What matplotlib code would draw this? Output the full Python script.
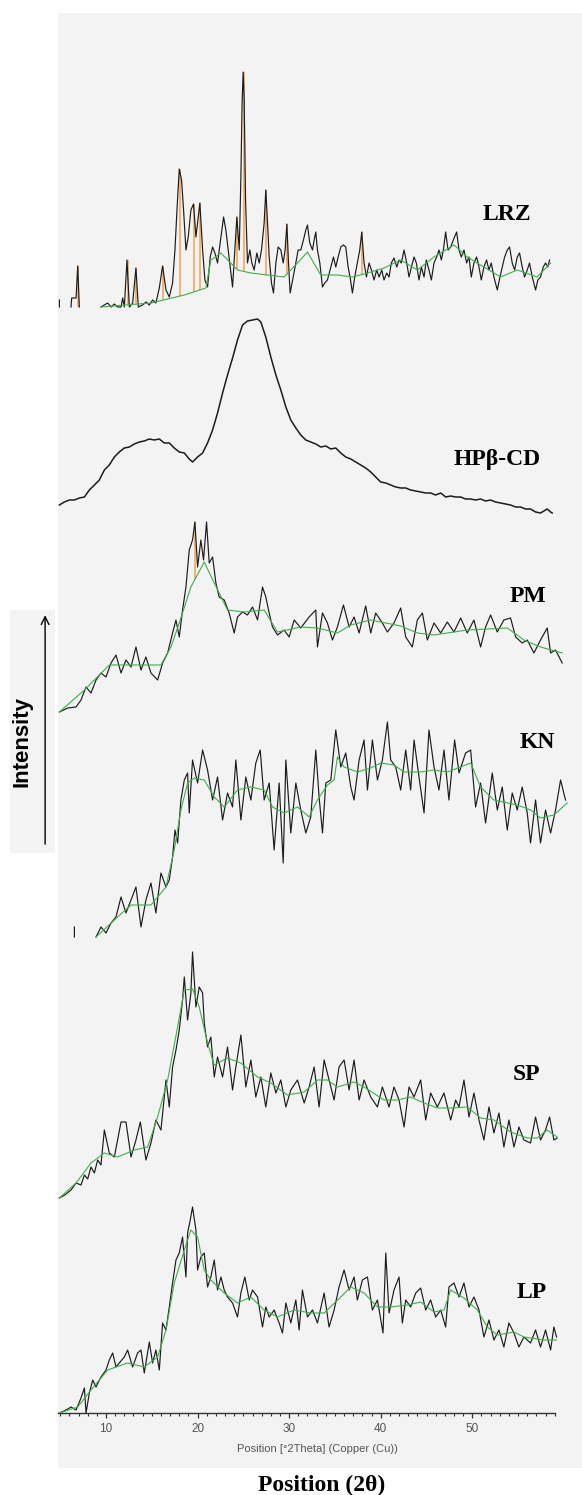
#!/usr/bin/env python3
"""Stacked XRD patterns: LRZ, HPb-CD, PM, KN, SP, LP."""

import matplotlib
matplotlib.use("Agg")
import matplotlib.pyplot as plt
import numpy as np

nan = np.nan

# ---------------------------------------------------------------------------
# Data: (2theta [deg], counts above each pattern's base)
# ---------------------------------------------------------------------------

lrz_2theta = [
    4.91, 4.91, nan, 6.18, 6.25, 6.73, 6.91, 7.09, nan,
    9.45, 9.82, 10.18, 10.55, 10.91, 11.27, 11.64, 11.82, 12.0, 12.29,
    12.55, 12.91, 13.27, 13.53, 14.0, 14.36, 14.73, 15.09, 15.45, 15.82,
    16.18, 16.55, 16.91, 17.27, 17.53, 17.75, 18.0, 18.25, 18.47, 18.73,
    18.98, 19.27, 19.56, 19.82, 20.0, 20.25, 20.55, 20.8, 21.09, 21.38,
    21.64, 21.89, 22.18, 22.55, 22.84, 23.09, 23.35, 23.56, 23.82, 24.07,
    24.29, 24.55, 24.73, 24.87, 24.98, 25.09, 25.24, 25.45, 25.71, 25.93,
    26.18, 26.47, 26.73, 26.98, 27.27, 27.45, 27.64, 27.82, 28.07, 28.29,
    28.55, 28.8, 29.09, 29.35, 29.56, 29.75, 29.93, 30.11, 30.44, 30.73,
    30.98, 31.27, 31.56, 31.82, 32.0, 32.25, 32.55, 32.73, 32.91, 33.09,
    33.35, 33.64, 33.89, 34.18, 34.55, 34.84, 35.09, 35.35, 35.64, 35.93,
    36.18, 36.44, 36.65, 36.91, 37.16, 37.45, 37.71, 37.93, 38.18, 38.44,
    38.73, 38.98, 39.27, 39.56, 39.82, 40.11, 40.36, 40.65, 40.91, 41.16,
    41.45, 41.75, 42.0, 42.25, 42.55, 42.84, 43.09, 43.35, 43.64, 43.89,
    44.18, 44.44, 44.73, 44.98, 45.27, 45.53, 45.82, 46.11, 46.36, 46.62,
    46.84, 47.09, 47.35, 47.64, 47.93, 48.29, 48.55, 48.8, 49.09, 49.38,
    49.64, 49.89, 50.18, 50.47, 50.73, 50.98, 51.27, 51.56, 51.82, 52.07,
    52.36, 52.73, 53.02, 53.27, 53.53, 53.82, 54.07, 54.36, 54.62, 54.91,
    55.16, 55.45, 55.71, 56.0, 56.25, 56.55, 56.91, 57.16, 57.45, 57.75,
    58.0, 58.25, 58.44,
]
lrz_counts = [
    6, 13, nan, 6, 15, 15, 47, 6, nan,
    6, 8, 10, 6, 9, 6, 6, 15, 6, 53,
    6, 10, 45, 6, 8, 11, 8, 13, 10, 25,
    47, 23, 16, 30, 63, 103, 144, 133, 103, 63,
    76, 103, 109, 76, 90, 110, 63, 33, 26, 56,
    66, 60, 50, 76, 96, 83, 63, 46, 26, 63,
    96, 63, 136, 213, 241, 213, 113, 50, 63, 50,
    43, 60, 50, 63, 90, 123, 90, 56, 30, 20,
    50, 66, 63, 50, 63, 89, 50, 20, 36, 50,
    63, 63, 73, 83, 88, 70, 63, 73, 81, 63,
    50, 26, 30, 33, 46, 56, 46, 56, 66, 68,
    66, 46, 36, 20, 36, 50, 63, 81, 50, 36,
    50, 43, 33, 43, 36, 43, 33, 40, 36, 50,
    55, 46, 53, 50, 63, 50, 36, 46, 56, 50,
    33, 46, 36, 53, 43, 33, 50, 56, 63, 53,
    63, 81, 63, 66, 73, 81, 63, 56, 63, 50,
    56, 36, 50, 56, 46, 33, 46, 53, 43, 50,
    36, 23, 36, 46, 56, 63, 66, 50, 43, 56,
    60, 46, 36, 43, 50, 36, 23, 33, 36, 46,
    50, 46, 53,
]
lrz_bg = [
    (9.45, 6), (14.91, 10), (18.55, 18), (20.91, 25), (21.45, 53), (22.55, 60),
    (24.36, 43), (25.82, 40), (29.45, 36), (30.91, 50), (32.0, 61), (33.45, 38),
    (35.27, 38), (36.91, 36), (38.55, 40), (40.36, 45), (42.18, 53), (44.0, 43),
    (45.82, 56), (48.0, 68), (49.45, 56), (51.27, 46), (53.09, 36), (54.91, 43),
    (57.09, 36), (58.55, 50),
]
lrz_peaks = [6.91, 12.29, 13.27, 16.18, 18.0, 19.56, 20.25, 24.29, 24.98,
             27.45, 29.75, 37.93]

hp_scan = [
    (4.91, 13), (5.45, 16), (6.0, 18), (6.55, 18), (7.09, 20), (7.64, 21),
    (8.18, 28), (8.73, 33), (9.27, 38), (9.82, 48), (10.36, 53), (10.91, 61),
    (11.45, 66), (12.0, 70), (12.55, 71), (13.09, 74), (13.64, 76), (14.18, 77),
    (14.73, 79), (15.27, 78), (15.82, 79), (16.36, 75), (16.91, 75), (17.45, 70),
    (18.0, 66), (18.55, 65), (19.09, 59), (19.45, 56), (20.0, 61), (20.55, 65),
    (21.09, 75), (21.64, 88), (22.18, 105), (22.73, 125), (23.27, 143),
    (23.82, 160), (24.36, 178), (24.91, 193), (25.45, 197), (26.0, 198),
    (26.55, 199), (26.91, 196), (27.45, 181), (28.0, 161), (28.55, 143),
    (29.09, 128), (29.64, 111), (30.18, 98), (30.73, 90), (31.27, 83),
    (31.82, 78), (32.36, 76), (32.91, 74), (33.45, 71), (34.0, 72), (34.55, 69),
    (35.09, 70), (35.64, 65), (36.18, 61), (36.73, 59), (37.27, 56), (37.82, 53),
    (38.36, 50), (38.91, 46), (39.45, 41), (40.0, 36), (40.55, 35), (41.09, 33),
    (41.64, 31), (42.18, 30), (42.73, 30), (43.27, 28), (43.82, 27), (44.36, 26),
    (44.91, 25), (45.45, 25), (46.0, 23), (46.55, 25), (47.09, 21), (47.64, 22),
    (48.18, 21), (48.73, 21), (49.27, 19), (49.82, 19), (50.36, 18), (50.91, 19),
    (51.45, 17), (52.0, 18), (52.55, 16), (53.09, 15), (53.64, 14), (54.18, 13),
    (54.73, 11), (55.27, 11), (55.82, 9), (56.36, 9), (56.91, 6), (57.45, 5),
    (57.82, 7), (58.18, 9), (58.55, 6), (58.73, 5),
]

pm_scan = [
    (4.91, 1), (5.82, 5), (6.73, 6), (7.27, 13), (7.82, 26), (8.36, 20),
    (8.91, 33), (9.45, 40), (10.0, 36), (10.55, 50), (11.09, 58), (11.64, 40),
    (12.18, 53), (12.73, 46), (13.27, 66), (13.82, 43), (14.36, 56), (14.91, 40),
    (15.64, 33), (16.18, 50), (16.73, 60), (17.27, 80), (17.64, 93), (18.0, 76),
    (18.36, 103), (18.73, 126), (19.09, 163), (19.45, 173), (19.71, 191),
    (20.0, 146), (20.36, 173), (20.65, 153), (20.98, 191), (21.27, 150),
    (21.64, 156), (22.0, 130), (22.36, 116), (22.91, 113), (23.45, 100),
    (24.0, 80), (24.36, 96), (24.91, 101), (25.45, 98), (26.0, 106), (26.55, 93),
    (27.09, 126), (27.45, 116), (27.82, 100), (28.18, 86), (28.73, 78),
    (29.45, 83), (30.0, 76), (30.55, 93), (31.27, 85), (32.18, 96), (32.91, 103),
    (33.09, 66), (33.64, 100), (34.18, 90), (34.73, 73), (35.27, 86),
    (35.93, 108), (36.55, 86), (37.09, 96), (37.64, 80), (38.36, 107),
    (38.91, 80), (39.45, 100), (40.18, 90), (40.73, 81), (41.45, 90),
    (42.18, 105), (42.73, 76), (43.45, 66), (44.0, 93), (44.55, 100), (45.09, 73),
    (45.82, 90), (46.55, 80), (47.27, 91), (48.0, 81), (48.73, 95), (49.45, 80),
    (50.18, 93), (50.91, 66), (51.45, 86), (52.0, 98), (52.73, 81), (53.45, 93),
    (54.18, 95), (54.73, 76), (55.45, 70), (56.0, 73), (56.73, 60), (57.45, 73),
    (58.18, 85), (58.55, 60), (59.09, 63), (59.82, 50),
]
pm_bg = [
    (4.91, 1), (7.64, 23), (10.36, 48), (13.09, 48), (16.0, 48), (17.09, 66),
    (18.0, 90), (19.27, 126), (20.73, 151), (21.82, 130), (23.27, 103),
    (25.09, 101), (27.27, 103), (28.73, 81), (31.27, 86), (33.09, 85),
    (35.27, 80), (36.73, 88), (38.91, 93), (42.18, 87), (44.0, 80), (45.82, 78),
    (49.45, 83), (53.82, 85), (55.64, 73), (57.45, 66), (59.82, 60),
]
pm_peaks = [19.71]

kn_scan = [
    (6.55, 6), (6.55, 16), (nan, nan),
    (8.91, 6), (9.45, 16), (10.0, 10), (10.55, 20), (11.09, 26), (11.64, 46),
    (12.18, 30), (12.73, 43), (13.27, 56), (13.82, 16), (14.36, 43), (14.91, 60),
    (15.45, 30), (16.0, 70), (16.55, 56), (16.91, 63), (17.27, 86), (17.53, 113),
    (17.82, 100), (18.18, 143), (18.55, 163), (18.91, 170), (19.09, 130),
    (19.45, 183), (20.0, 160), (20.55, 193), (21.09, 173), (21.64, 143),
    (22.18, 166), (22.73, 123), (23.27, 150), (23.82, 136), (24.18, 183),
    (24.73, 123), (25.27, 166), (25.82, 143), (26.36, 180), (26.84, 193),
    (27.27, 143), (27.82, 160), (28.36, 93), (28.91, 160), (29.35, 80),
    (29.64, 183), (30.18, 110), (30.73, 160), (31.27, 133), (31.82, 110),
    (32.36, 126), (32.91, 193), (33.27, 146), (33.64, 110), (34.0, 160),
    (34.55, 163), (35.09, 213), (35.64, 176), (36.18, 190), (36.73, 156),
    (37.09, 143), (37.64, 183), (38.18, 203), (38.55, 153), (39.09, 203),
    (39.64, 163), (40.18, 183), (40.73, 221), (41.09, 183), (41.64, 176),
    (42.18, 153), (42.73, 193), (43.27, 153), (43.64, 203), (44.18, 166),
    (44.73, 130), (45.27, 213), (45.82, 176), (46.36, 153), (46.91, 193),
    (47.45, 143), (48.07, 203), (48.55, 170), (49.27, 190), (49.82, 193),
    (50.36, 136), (50.91, 160), (51.45, 120), (52.18, 170), (52.73, 133),
    (53.27, 156), (53.82, 113), (54.36, 150), (54.91, 133), (55.45, 156),
    (56.0, 130), (56.36, 100), (56.91, 143), (57.45, 100), (58.0, 133),
    (58.55, 110), (59.09, 133), (59.64, 163), (60.18, 143),
]
kn_bg = [
    (8.91, 6), (11.27, 26), (12.73, 38), (14.91, 38), (16.55, 56), (17.45, 93),
    (18.18, 133), (18.91, 160), (19.64, 165), (20.73, 163), (21.82, 146),
    (22.91, 136), (24.36, 153), (25.82, 156), (27.27, 153), (28.18, 136),
    (29.45, 130), (30.91, 136), (32.18, 126), (33.09, 143), (34.18, 158),
    (34.91, 163), (35.27, 186), (36.0, 176), (37.45, 171), (38.91, 175),
    (40.0, 180), (41.45, 178), (42.55, 171), (44.36, 171), (45.82, 173),
    (47.27, 171), (48.73, 176), (49.82, 180), (50.91, 156), (52.36, 143),
    (54.91, 138), (56.36, 133), (57.45, 125), (58.91, 128), (60.36, 140),
]

sp_scan = [
    (4.91, 5), (5.5, 8), (6.18, 13), (6.73, 20), (7.27, 18), (7.64, 28),
    (8.0, 24), (8.36, 36), (8.73, 30), (9.09, 43), (9.45, 38), (9.82, 73),
    (10.36, 50), (10.91, 46), (11.64, 81), (12.18, 81), (12.73, 46), (13.27, 63),
    (13.75, 81), (14.36, 43), (14.91, 60), (15.45, 83), (16.0, 73), (16.55, 123),
    (16.91, 96), (17.27, 136), (17.64, 153), (18.0, 173), (18.36, 203),
    (18.55, 226), (18.91, 183), (19.27, 210), (19.45, 251), (19.82, 196),
    (20.18, 216), (20.55, 210), (20.73, 180), (21.09, 156), (21.45, 166),
    (21.82, 126), (22.18, 146), (22.73, 126), (23.27, 156), (23.82, 113),
    (24.18, 136), (24.73, 168), (25.27, 116), (25.82, 143), (26.36, 106),
    (26.91, 126), (27.45, 96), (28.0, 130), (28.55, 110), (29.09, 123),
    (29.64, 96), (30.18, 113), (30.91, 123), (31.64, 100), (32.18, 116),
    (32.73, 136), (33.27, 96), (33.82, 143), (34.36, 123), (34.91, 103),
    (35.45, 136), (36.0, 143), (36.55, 113), (37.09, 143), (37.64, 103),
    (38.18, 123), (38.91, 106), (39.64, 96), (40.18, 116), (40.91, 96),
    (41.45, 116), (42.0, 103), (42.55, 76), (43.09, 116), (43.64, 106),
    (44.36, 123), (44.91, 83), (45.45, 110), (46.18, 96), (46.91, 110),
    (47.64, 83), (48.18, 103), (48.55, 96), (49.09, 123), (49.64, 86),
    (50.18, 110), (50.73, 83), (51.27, 63), (51.82, 96), (52.36, 70),
    (52.91, 90), (53.45, 56), (54.0, 83), (54.55, 56), (55.09, 76), (55.64, 63),
    (56.36, 60), (56.91, 86), (57.45, 63), (58.0, 73), (58.44, 86), (58.91, 63),
    (59.27, 65),
]
sp_bg = [
    (4.91, 5), (6.73, 20), (8.36, 40), (9.82, 50), (11.27, 46), (13.09, 53),
    (14.55, 56), (15.64, 86), (16.73, 123), (17.82, 176), (18.55, 213),
    (19.45, 214), (20.18, 196), (21.09, 160), (21.82, 138), (23.27, 145),
    (24.73, 140), (26.55, 126), (28.0, 120), (29.82, 108), (31.64, 111),
    (33.09, 123), (34.18, 123), (35.27, 116), (37.09, 121), (38.18, 116),
    (40.36, 103), (41.82, 103), (43.27, 106), (44.73, 100), (46.18, 95),
    (47.64, 95), (49.45, 96), (50.91, 85), (52.36, 83), (54.18, 71), (56.0, 65),
    (57.09, 65), (58.18, 73), (59.27, 66),
]

lp_scan = [
    (4.91, 0), (5.64, 3), (6.18, 6), (6.73, 3), (7.27, 15), (7.64, 25),
    (7.82, 0), (8.18, 20), (8.55, 33), (8.91, 26), (9.45, 36), (10.0, 43),
    (10.36, 53), (10.73, 60), (11.09, 46), (11.45, 50), (12.0, 56), (12.36, 63),
    (12.91, 46), (13.45, 60), (13.82, 63), (14.18, 40), (14.73, 71), (15.09, 50),
    (15.45, 63), (15.82, 43), (16.18, 90), (16.55, 83), (16.91, 106),
    (17.27, 130), (17.64, 153), (18.0, 160), (18.36, 176), (18.73, 136),
    (18.91, 180), (19.2, 193), (19.45, 206), (19.82, 183), (20.0, 143),
    (20.36, 156), (20.73, 160), (21.09, 126), (21.45, 136), (21.82, 153),
    (22.18, 123), (22.55, 136), (22.91, 123), (23.27, 116), (23.82, 110),
    (24.36, 96), (24.73, 120), (25.16, 136), (25.64, 113), (26.0, 123),
    (26.55, 116), (27.09, 86), (27.45, 106), (27.82, 96), (28.36, 103),
    (28.91, 90), (29.27, 80), (29.64, 110), (30.18, 90), (30.73, 113),
    (31.09, 83), (31.45, 123), (32.0, 96), (32.55, 103), (33.09, 90),
    (33.82, 120), (34.36, 86), (34.91, 103), (35.45, 126), (36.0, 143),
    (36.55, 123), (37.09, 136), (37.45, 113), (38.0, 133), (38.55, 136),
    (39.09, 103), (39.64, 113), (40.25, 80), (40.55, 160), (40.91, 100),
    (41.45, 123), (42.0, 136), (42.36, 90), (42.73, 113), (43.27, 106),
    (43.82, 120), (44.36, 125), (44.91, 103), (45.45, 113), (46.0, 96),
    (46.55, 103), (47.09, 86), (47.45, 126), (48.0, 130), (48.55, 116),
    (49.09, 130), (49.64, 106), (50.18, 116), (50.73, 103), (51.27, 76),
    (51.82, 93), (52.36, 73), (52.91, 83), (53.45, 66), (54.0, 90), (54.55, 80),
    (55.09, 66), (55.64, 76), (56.36, 70), (56.91, 83), (57.45, 66), (58.0, 83),
    (58.55, 63), (58.91, 86), (59.2, 76),
]
lp_bg = [
    (4.91, 0), (6.91, 6), (8.36, 23), (10.18, 43), (12.36, 50), (14.18, 46),
    (15.64, 56), (16.55, 83), (17.45, 130), (18.55, 163), (19.27, 183),
    (20.0, 176), (20.73, 143), (21.45, 133), (22.91, 120), (24.36, 110),
    (25.82, 116), (27.27, 103), (28.73, 96), (30.55, 103), (32.36, 100),
    (33.82, 100), (35.64, 116), (36.73, 126), (38.18, 120), (39.64, 106),
    (41.09, 106), (42.91, 108), (44.36, 111), (45.82, 101), (46.91, 103),
    (47.64, 123), (49.09, 115), (50.55, 103), (51.64, 86), (52.73, 78),
    (54.55, 81), (55.64, 76), (57.82, 73), (59.2, 73),
]

sample_names = ["LRZ", "HPβ-CD", "PM", "KN", "SP", "LP"]
offsets = [1100, 895, 700, 470, 210, 0]

# label placement (2theta, height) next to each trace
label_x = [53.8, 52.7, 56.1, 57.1, 55.9, 56.5]
label_y = [1198, 953, 816, 670, 338, 120]

# ---------------------------------------------------------------------------
# Figure
# ---------------------------------------------------------------------------

PANEL = "#f3f3f3"
BLACK = "#1c1c1c"
GREEN = "#3fae4a"
ORANGE = "#f4a24c"

fig = plt.figure(figsize=(5.82, 14.95), dpi=100)
fig.patch.set_facecolor("white")

ax = fig.add_axes([58 / 582, 27 / 1495, 524 / 582, 1455 / 1495])
ax.set_facecolor(PANEL)
ax.set_xlim(4.758, 61.98)
ax.set_ylim(-55, 1400)

scans = [
    (np.array(lrz_2theta, dtype=float), np.array(lrz_counts, dtype=float)),
    tuple(np.array(hp_scan, dtype=float).T),
    tuple(np.array(pm_scan, dtype=float).T),
    tuple(np.array(kn_scan, dtype=float).T),
    tuple(np.array(sp_scan, dtype=float).T),
    tuple(np.array(lp_scan, dtype=float).T),
]
backgrounds = [lrz_bg, None, pm_bg, kn_bg, sp_bg, lp_bg]
peak_sets = [lrz_peaks, [], pm_peaks, [], [], []]

for i, name in enumerate(sample_names):
    tt, counts = scans[i]
    off = offsets[i]
    ok = ~np.isnan(tt)

    # peak markers: background -> peak top
    if backgrounds[i] is not None and peak_sets[i]:
        bx, by = np.array(backgrounds[i], dtype=float).T
        pk = np.array(peak_sets[i])
        top = np.interp(pk, tt[ok], counts[ok])
        bottom = np.interp(pk, bx, by)
        ax.vlines(pk + 0.06, bottom + off, top + off, color=ORANGE, lw=1.1,
                  zorder=2)

    lw = 1.1 if name == "HPβ-CD" else 0.85
    ax.plot(tt, counts + off, color=BLACK, lw=lw, zorder=3)

    if backgrounds[i] is not None:
        bx, by = np.array(backgrounds[i], dtype=float).T
        ax.plot(bx, by + off, color=GREEN, lw=0.8, zorder=4)

    ax.text(label_x[i], label_y[i], name, ha="center", va="center",
            fontsize=17, fontweight="bold", family="Liberation Serif",
            color="black")

# axis styling: only a bottom baseline with ticks
for side in ["top", "right", "left"]:
    ax.spines[side].set_visible(False)
ax.spines["bottom"].set_position(("data", 0))
ax.spines["bottom"].set_bounds(4.79, 59.03)
ax.spines["bottom"].set_color("#333333")
ax.spines["bottom"].set_linewidth(1.0)
ax.set_yticks([])
ax.set_xticks([10, 20, 30, 40, 50])
ax.set_xticks(np.arange(5, 60), minor=True)
ax.tick_params(axis="x", which="major", length=3.5, width=0.9,
               color="#333333", pad=4, labelsize=8.5, labelcolor="#555555")
ax.tick_params(axis="x", which="minor", length=1.8, width=0.8,
               color="#333333")
for lab in ax.get_xticklabels():
    lab.set_family("Liberation Sans")
ax.set_xlabel("Position [°2Theta] (Copper (Cu))", fontsize=8,
              color="#555555", family="Liberation Sans")
ax.xaxis.set_label_coords((317.5 - 58) / 524, (1468 - 1444) / 1455)

# "Intensity" side box with arrow
box = fig.add_axes([10 / 582, (1495 - 853) / 1495, 45 / 582, 243 / 1495])
box.set_facecolor(PANEL)
box.set_xticks([])
box.set_yticks([])
for s in box.spines.values():
    s.set_visible(False)
box.text(0.27, 0.46, "Intensity", rotation=90, ha="center", va="center",
         fontsize=16, fontweight="bold", family="Liberation Sans")
box.annotate("", xy=(0.78, 0.99), xytext=(0.78, 0.025),
             xycoords="axes fraction",
             arrowprops=dict(arrowstyle="->", lw=1.0, color="black",
                             mutation_scale=14))

fig.text(321.5 / 582, 1 - 1485 / 1495, "Position (2θ)", ha="center",
         va="center", fontsize=17, fontweight="bold", family="Liberation Serif")

fig.savefig("out.png", dpi=100)
